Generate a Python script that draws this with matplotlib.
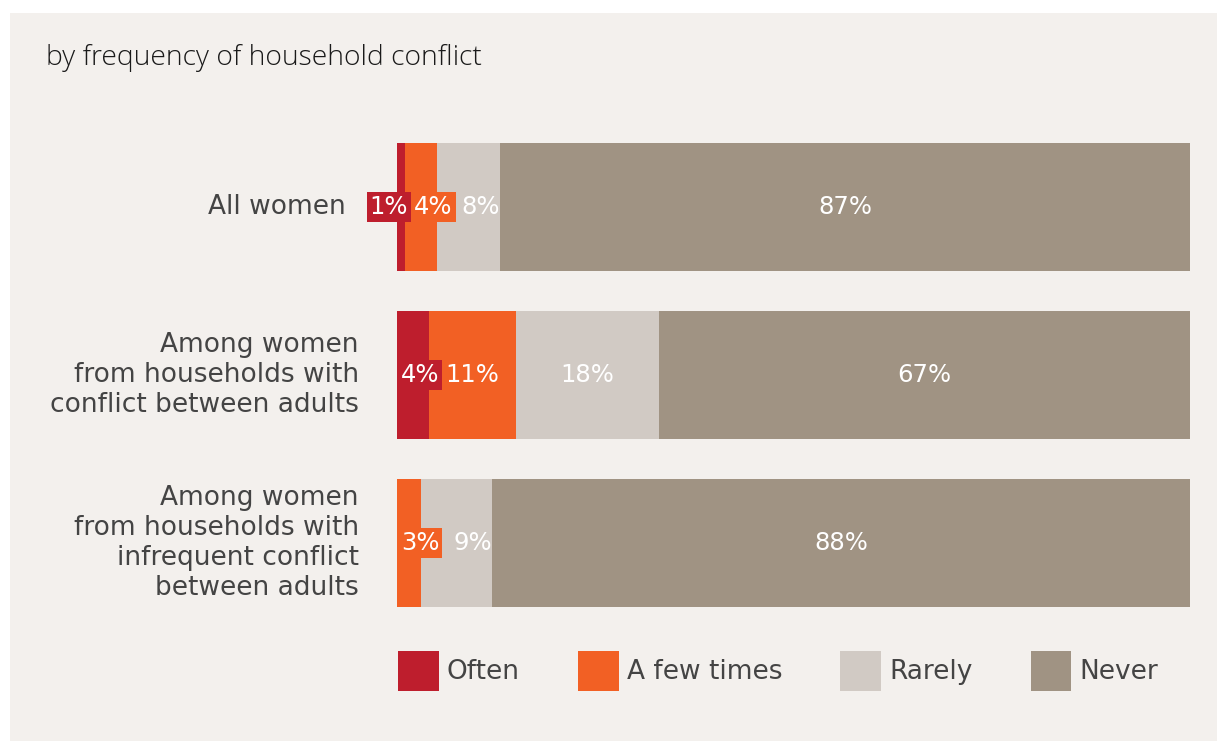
import matplotlib
matplotlib.use("Agg")
import matplotlib.pyplot as plt
from matplotlib.patches import Rectangle, Patch

# ---- data ----
groups = [
    "All women",
    "Among women\nfrom households with\nconflict between adults",
    "Among women\nfrom households with\ninfrequent conflict\nbetween adults",
]
series_names = ["Often", "A few times", "Rarely", "Never"]
often = [1, 4, 0]
few_times = [4, 11, 3]
rarely = [8, 18, 9]
never = [87, 67, 88]
title = "by frequency of household conflict"

# ---- style ----
colors = ["#be1e2d", "#f26024", "#d1cac4", "#a09383"]
panel_color = "#f3f0ed"
text_color = "#444444"
W, H, DPI = 1217, 742, 100
# horizontal nudges (in % units) for labels on narrow segments, per group/series
label_shift = [
    [-1.55, 1.6, 1.5, 0.0],
    [0.9, 0.0, 0.0, 0.0],
    [0.0, 1.4, 2.1, 0.0],
]
group_label_right = [346, 359, 359]  # pixel x of right edge of group labels

fig = plt.figure(figsize=(W / DPI, H / DPI), dpi=DPI, facecolor="white")

# background panel
fig.add_artist(Rectangle((10 / W, 1 - 741 / H), 1 - 10 / W, (741 - 13) / H,
                         transform=fig.transFigure, facecolor=panel_color,
                         edgecolor="none", zorder=0))

fig.text(46 / W, 1 - 65 / H, title, fontsize=20.3, family="Open Sans",
         fontweight="light", color="#1a1a1a", va="baseline", ha="left")

# axes spanning the bar area
x0, x1 = 397, 1190
y_top, y_bot = 143, 607
ax = fig.add_axes([x0 / W, 1 - y_bot / H, (x1 - x0) / W, (y_bot - y_top) / H])
ax.set_facecolor("none")
bar_h = 128 / 168
ax.set_xlim(0, 100)
ax.set_ylim(len(groups) - 1 + bar_h / 2, -bar_h / 2)
ax.axis("off")

series = [often, few_times, rarely, never]
lefts = [0.0] * len(groups)
for s_idx, (vals, col) in enumerate(zip(series, colors)):
    ax.barh(range(len(groups)), vals, left=lefts, height=bar_h, color=col,
            edgecolor="none", zorder=2)
    for g_idx, v in enumerate(vals):
        if v <= 0:
            continue
        cx = lefts[g_idx] + v / 2 + label_shift[g_idx][s_idx]
        kw = {}
        if v < 5:
            kw["bbox"] = dict(boxstyle="square,pad=0.12", facecolor=col,
                              edgecolor="none")
        ax.text(cx, g_idx, f"{v}%", ha="center", va="center", color="white",
                fontsize=17.5, family="DejaVu Sans", zorder=4 + s_idx, **kw)
    lefts = [l + v for l, v in zip(lefts, vals)]

# group labels
for g_idx, (name, rx) in enumerate(zip(groups, group_label_right)):
    fy = 1 - (y_top + 64 + 168 * g_idx) / H
    fig.text(rx / W, fy, name, ha="right", va="center", fontsize=19,
             family="DejaVu Sans", color=text_color, linespacing=1.2,
             multialignment="right")

# legend
handles = [Patch(facecolor=c, edgecolor="none", label=n)
           for c, n in zip(colors, series_names)]
leg = fig.legend(handles=handles, loc="center left",
                 bbox_to_anchor=(398 / W, 1 - 671 / H), ncol=4, frameon=False,
                 handlelength=1.55, handleheight=2.0,
                 handletextpad=0.30, columnspacing=2.2, borderaxespad=0,
                 borderpad=0, prop={"family": "DejaVu Sans", "size": 19})
for t in leg.get_texts():
    t.set_color(text_color)

fig.savefig("out.png", dpi=DPI, facecolor="white")
